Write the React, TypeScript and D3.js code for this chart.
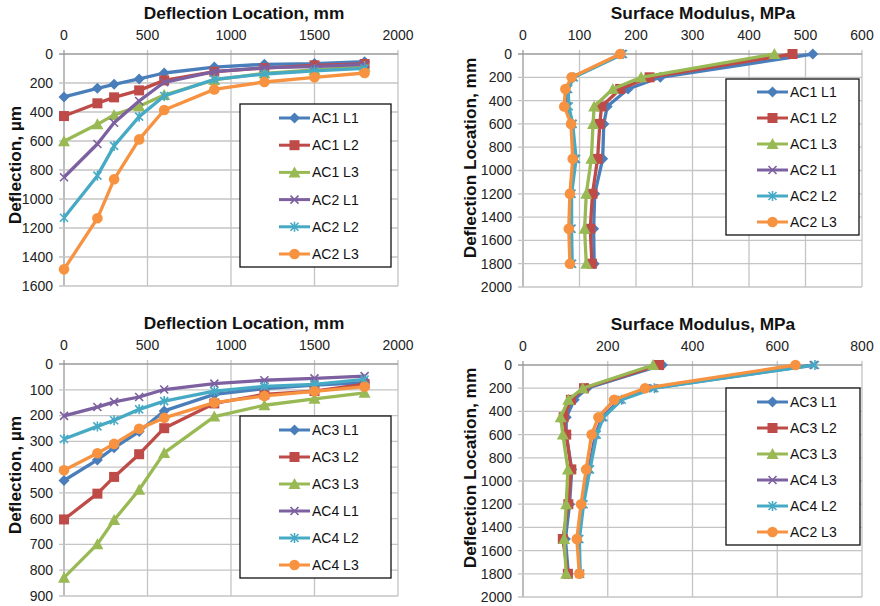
import React, { useEffect, useRef } from "react";
import * as d3 from "d3";

// deflection locations, mm
const locations = [0, 200, 300, 450, 600, 900, 1200, 1500, 1800];

// top-left: deflection basins, µm
const defAC1L1 = [296, 237, 209, 172, 131, 90, 71, 66, 53];
const defAC1L2 = [428, 340, 299, 251, 182, 122, 97, 78, 69];
const defAC1L3 = [602, 485, 420, 361, 283, 179, 133, 110, 87];
const defAC2L1 = [850, 621, 474, 324, 195, 122, 94, 87, 71];
const defAC2L2 = [1129, 839, 634, 432, 290, 175, 138, 117, 99];
const defAC2L3 = [1485, 1133, 864, 589, 386, 244, 193, 161, 131];
const labelsTopLeft = ["AC1 L1", "AC1 L2", "AC1 L3", "AC2 L1", "AC2 L2", "AC2 L3"];

// top-right: surface modulus, MPa
const modAC1L1 = [513, 243, 186, 149, 143, 141, 127, 125, 126];
const modAC1L2 = [477, 224, 172, 139, 136, 132, 123, 119, 122];
const modAC1L3 = [445, 209, 159, 126, 124, 121, 112, 109, 112];
const modAC2L1 = [175, 88, 78, 78, 87, 92, 85, 85, 86];
const modAC2L2 = [177, 90, 80, 81, 88, 94, 86, 86, 87];
const modAC2L3 = [172, 86, 75, 73, 85, 88, 83, 81, 83];
const labelsTopRight = ["AC1 L1", "AC1 L2", "AC1 L3", "AC2 L1", "AC2 L2", "AC2 L3"];

// bottom-left: deflection basins, µm
const defAC3L1 = [452, 372, 325, 262, 182, 118, 95, 82, 72];
const defAC3L2 = [603, 503, 438, 350, 249, 153, 118, 105, 78];
const defAC3L3 = [829, 699, 605, 488, 345, 204, 160, 135, 112];
const defAC4L1 = [201, 167, 147, 128, 99, 76, 63, 56, 47];
const defAC4L2 = [291, 242, 218, 176, 144, 105, 87, 79, 60];
const defAC4L3 = [412, 346, 310, 251, 209, 150, 124, 106, 88];
const labelsBottomLeft = ["AC3 L1", "AC3 L2", "AC3 L3", "AC4 L1", "AC4 L2", "AC4 L3"];

// bottom-right: surface modulus, MPa
const modAC3L1 = [329, 151, 121, 102, 102, 115, 110, 100, 107];
const modAC3L2 = [321, 144, 113, 96, 102, 114, 107, 94, 106];
const modAC3L3 = [307, 141, 107, 89, 94, 106, 102, 97, 102];
const modAC4L1 = [686, 306, 228, 187, 171, 155, 140, 131, 134];
const modAC4L2 = [689, 310, 233, 190, 174, 158, 143, 133, 135];
const modAC4L3 = [643, 288, 215, 178, 162, 149, 137, 127, 133];
const labelsBottomRight = ["AC3 L1", "AC3 L2", "AC3 L3", "AC4 L3", "AC4 L2", "AC2 L3"];

const colors = ["#4A7EBB", "#BE4B48", "#98B954", "#7D60A0", "#46AAC5", "#F69240"];
const markers = ["diamond", "square", "triangle", "x", "star", "circle"];
const FONT = "'Liberation Sans', Arial, sans-serif";

function drawMarker(g: any, type: string, color: string, x: number, y: number) {
  const t = `translate(${x},${y})`;
  if (type === "diamond") {
    g.append("path").attr("d", "M0,-5.5L5.5,0L0,5.5L-5.5,0Z").attr("transform", t).attr("fill", color);
  } else if (type === "square") {
    g.append("rect").attr("x", x - 5).attr("y", y - 5).attr("width", 10).attr("height", 10).attr("fill", color);
  } else if (type === "triangle") {
    g.append("path").attr("d", "M0,-6L6,5L-6,5Z").attr("transform", t).attr("fill", color);
  } else if (type === "circle") {
    g.append("circle").attr("cx", x).attr("cy", y).attr("r", 5.3).attr("fill", color);
  } else {
    let d = "M-4,-4L4,4M-4,4L4,-4";
    if (type === "star") d += "M0,-5L0,5";
    g.append("path").attr("d", d).attr("transform", t).attr("stroke", color).attr("stroke-width", 1.6).attr("fill", "none");
  }
}

function drawPanel(svg: any, p: any) {
  const g = svg.append("g");
  const x = d3.scaleLinear().domain(p.xDomain).range([p.left, p.right]);
  const y = d3.scaleLinear().domain(p.yDomain).range([p.top, p.bottom]);
  const xt = d3.range(p.xDomain[0], p.xDomain[1] + 1, p.xStep);
  const yt = d3.range(p.yDomain[0], p.yDomain[1] + 1, p.yStep);

  // gridlines
  xt.forEach((v) => {
    g.append("line").attr("x1", x(v)).attr("x2", x(v)).attr("y1", p.top - 4).attr("y2", p.bottom)
      .attr("stroke", v === 0 ? "#9A9A9A" : "#C4C4C4").attr("stroke-width", 1.3);
    g.append("text").attr("x", x(v)).attr("y", p.top - 14).attr("text-anchor", "middle")
      .attr("font-family", FONT).attr("font-size", 14).attr("fill", "#222").text(v);
  });
  yt.forEach((v) => {
    g.append("line").attr("x1", p.left - 5).attr("x2", p.right).attr("y1", y(v)).attr("y2", y(v))
      .attr("stroke", v === 0 ? "#9A9A9A" : "#C4C4C4").attr("stroke-width", 1.3);
    g.append("text").attr("x", p.left - 11).attr("y", y(v)).attr("dy", "0.35em").attr("text-anchor", "end")
      .attr("font-family", FONT).attr("font-size", 14).attr("fill", "#222").text(v);
  });

  // titles
  g.append("text").attr("x", p.titleX).attr("y", p.top - 35).attr("text-anchor", "middle")
    .attr("font-family", FONT).attr("font-size", 17.3).attr("font-weight", "bold").attr("fill", "#111").text(p.title);
  g.append("text").attr("transform", `translate(${p.yTitleX},${p.yTitleY}) rotate(-90)`).attr("text-anchor", "middle")
    .attr("font-family", FONT).attr("font-size", 17.3).attr("font-weight", "bold").attr("fill", "#111").text(p.yTitle);

  // series
  p.series.forEach((s: number[], i: number) => {
    const pts = s.map((v, j) => (p.horizontal ? [x(locations[j]), y(v)] : [x(v), y(locations[j])]));
    g.append("path").attr("d", d3.line()(pts as any)).attr("fill", "none")
      .attr("stroke", colors[i]).attr("stroke-width", 3.3).attr("stroke-linejoin", "round");
    pts.forEach((pt) => drawMarker(g, markers[i], colors[i], pt[0], pt[1]));
  });

  // legend
  const lg = p.legend;
  g.append("rect").attr("x", lg.x).attr("y", lg.y).attr("width", lg.w).attr("height", lg.h)
    .attr("fill", "#fff").attr("stroke", "#111").attr("stroke-width", 1.3);
  p.labels.forEach((lab: string, i: number) => {
    const ly = lg.y + lg.first + i * lg.gap;
    g.append("line").attr("x1", lg.lineX).attr("x2", lg.lineX + 31).attr("y1", ly).attr("y2", ly)
      .attr("stroke", colors[i]).attr("stroke-width", 3);
    drawMarker(g, markers[i], colors[i], lg.lineX + 15.5, ly);
    g.append("text").attr("x", lg.lineX + 33).attr("y", ly).attr("dy", "0.35em")
      .attr("font-family", FONT).attr("font-size", 14).attr("fill", "#111").text(lab);
  });
}

export default function App() {
  const ref = useRef<SVGSVGElement>(null);

  useEffect(() => {
    const svg = d3.select(ref.current);
    svg.selectAll("*").remove();

    drawPanel(svg, {
      left: 64, right: 398, top: 54, bottom: 286, xDomain: [0, 2000], yDomain: [0, 1600], xStep: 500, yStep: 200,
      horizontal: true, title: "Deflection Location, mm", titleX: 244, yTitle: "Deflection, µm", yTitleX: 21, yTitleY: 165,
      series: [defAC1L1, defAC1L2, defAC1L3, defAC2L1, defAC2L2, defAC2L3], labels: labelsTopLeft,
      legend: { x: 240, y: 104, w: 151, h: 163, first: 14, gap: 27.2, lineX: 279 },
    });
    drawPanel(svg, {
      left: 523, right: 862, top: 54, bottom: 287, xDomain: [0, 600], yDomain: [0, 2000], xStep: 100, yStep: 200,
      horizontal: false, title: "Surface Modulus, MPa", titleX: 703, yTitle: "Deflection Location, mm", yTitleX: 476, yTitleY: 158,
      series: [modAC1L1, modAC1L2, modAC1L3, modAC2L1, modAC2L2, modAC2L3], labels: labelsTopRight,
      legend: { x: 726, y: 79, w: 133, h: 156, first: 13, gap: 26, lineX: 757 },
    });
    drawPanel(svg, {
      left: 64, right: 398, top: 364, bottom: 596, xDomain: [0, 2000], yDomain: [0, 900], xStep: 500, yStep: 100,
      horizontal: true, title: "Deflection Location, mm", titleX: 244, yTitle: "Deflection, µm", yTitleX: 21, yTitleY: 475,
      series: [defAC3L1, defAC3L2, defAC3L3, defAC4L1, defAC4L2, defAC4L3], labels: labelsBottomLeft,
      legend: { x: 240, y: 416, w: 151, h: 162, first: 14, gap: 27, lineX: 279 },
    });
    drawPanel(svg, {
      left: 523, right: 862, top: 365, bottom: 597, xDomain: [0, 800], yDomain: [0, 2000], xStep: 200, yStep: 200,
      horizontal: false, title: "Surface Modulus, MPa", titleX: 703, yTitle: "Deflection Location, mm", yTitleX: 476, yTitleY: 468,
      series: [modAC3L1, modAC3L2, modAC3L3, modAC4L1, modAC4L2, modAC4L3], labels: labelsBottomRight,
      legend: { x: 726, y: 388, w: 134, h: 157, first: 14, gap: 26, lineX: 757 },
    });
  }, []);

  return (
    <svg ref={ref} width={880} height={606}
      style={{ position: "absolute", left: 0, top: 0, background: "#fff" }} />
  );
}
